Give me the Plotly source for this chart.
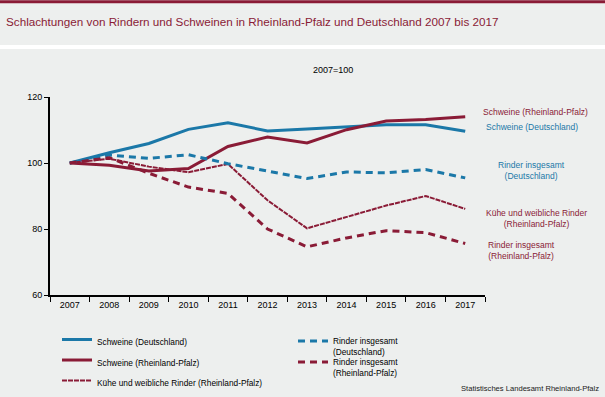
import plotly.graph_objects as go

years = ["2007", "2008", "2009", "2010", "2011", "2012", "2013", "2014", "2015", "2016", "2017"]
schweine_de = [100, 103.1, 105.9, 110.2, 112.2, 109.7, 110.3, 110.9, 111.6, 111.6, 109.6]
schweine_rp = [100, 99.3, 97.6, 98.3, 105.0, 107.9, 106.1, 110.1, 112.7, 113.2, 114.0]
rinder_de = [100, 102.4, 101.4, 102.5, 99.8, 97.6, 95.3, 97.3, 97.0, 98.0, 95.5]
kuehe_rp = [100, 101.3, 98.9, 97.2, 99.7, 88.7, 80.2, 83.6, 87.1, 90.0, 86.1]
rinder_rp = [100, 101.6, 96.9, 92.7, 90.8, 80.0, 74.6, 77.3, 79.5, 78.9, 75.6]
y_ticks = [60, 80, 100, 120]

BLUE = "#1B78A8"
RED = "#8A1B36"
BG = "#EDEFEE"
FONT = "Liberation Sans, Arial, sans-serif"

# plot area geometry in pixels
L, T, W, H = 50, 97, 435, 198.3
R = 605 - L - W
B = 397 - T - H


def px_x(px):
    return (px - L) / W


def px_y(py):
    return 1 - (py - T) / H


fig = go.Figure()
fig.add_trace(go.Scatter(x=years, y=schweine_de, mode="lines", name="Schweine (Deutschland)",
                         line=dict(color=BLUE, width=3), legend="legend"))
fig.add_trace(go.Scatter(x=years, y=schweine_rp, mode="lines", name="Schweine (Rheinland-Pfalz)",
                         line=dict(color=RED, width=3), legend="legend2"))
fig.add_trace(go.Scatter(x=years, y=kuehe_rp, mode="lines", name="Kühe und weibliche Rinder (Rheinland-Pfalz)",
                         line=dict(color=RED, width=2, dash="5px,1px"), legend="legend3"))
fig.add_trace(go.Scatter(x=years, y=rinder_de, mode="lines", name="Rinder insgesamt<br>(Deutschland)",
                         line=dict(color=BLUE, width=3, dash="7px,5px"), legend="legend4"))
fig.add_trace(go.Scatter(x=years, y=rinder_rp, mode="lines", name="Rinder insgesamt<br>(Rheinland-Pfalz)",
                         line=dict(color=RED, width=3, dash="7px,5px"), legend="legend5"))

annotations = []
# value labels at 2017
for val, dy in [(schweine_rp[-1], -10), (schweine_de[-1], 12), (rinder_de[-1], -10), (kuehe_rp[-1], 12), (rinder_rp[-1], 12)]:
    annotations.append(dict(x=years[-1], y=val, xref="x", yref="y", text=f"{val:.1f}".replace(".", ","),
                            showarrow=False, yshift=-dy, font=dict(size=9, color="#000000", family=FONT)))
# series labels on the right
right_labels = [
    ("Schweine (Rheinland-Pfalz)", RED, 112, 535),
    ("Schweine (Deutschland)", BLUE, 127, 532),
    ("Rinder insgesamt<br>(Deutschland)", BLUE, 171, 531),
    ("Kühe und weibliche Rinder<br>(Rheinland-Pfalz)", RED, 219, 536),
    ("Rinder insgesamt<br>(Rheinland-Pfalz)", RED, 251, 521),
]
for txt, col, ypx, xpx in right_labels:
    annotations.append(dict(x=px_x(xpx), xref="paper", y=px_y(ypx), yref="paper", text=txt, showarrow=False,
                            xanchor="center", yanchor="middle", font=dict(size=8.5, color=col, family=FONT)))
annotations.append(dict(x=px_x(333), xref="paper", y=px_y(70), yref="paper", yanchor="middle",
                        text="2007=100", showarrow=False, font=dict(size=9, color="#000000", family=FONT)))
annotations.append(dict(x=px_x(601), xref="paper", y=px_y(389), yref="paper", xanchor="right", yanchor="middle",
                        text="Statistisches Landesamt Rheinland-Pfalz", showarrow=False,
                        font=dict(size=7.6, color="#1A1A1A", family=FONT)))
annotations.append(dict(x=px_x(4), xref="paper", y=px_y(21.5), yref="paper", xanchor="left", yanchor="middle",
                        text="Schlachtungen von Rindern und Schweinen in Rheinland-Pfalz und Deutschland 2007 bis 2017",
                        showarrow=False, font=dict(size=11.7, color=RED, family=FONT)))

legend_common = dict(orientation="v", xanchor="left", yanchor="top", bgcolor="rgba(0,0,0,0)",
                     font=dict(size=8.3, family=FONT, color="#000000"), itemwidth=30, tracegroupgap=0,
                     valign="top")

fig.update_layout(
    width=605, height=397,
    margin=dict(l=L, r=R, t=T, b=B, autoexpand=False),
    paper_bgcolor=BG, plot_bgcolor=BG,
    font=dict(family=FONT, size=9, color="#000000"),
    showlegend=True,
    legend=dict(x=px_x(57), y=px_y(341 - 13), **legend_common),
    legend2=dict(x=px_x(57), y=px_y(361.5 - 13), **legend_common),
    legend3=dict(x=px_x(57), y=px_y(382 - 13), **legend_common),
    legend4=dict(x=px_x(293), y=px_y(340.5 - 11), **legend_common),
    legend5=dict(x=px_x(293), y=px_y(361.5 - 11), **legend_common),
    xaxis=dict(type="category", range=[-0.5, 10.5], showline=True, linecolor="#000000", linewidth=2,
               ticks="outside", tickson="boundaries", ticklen=5, tickcolor="#000000", showgrid=False,
               tickfont=dict(size=9, color="#000000"), fixedrange=True),
    yaxis=dict(range=[60, 120], tickvals=y_ticks, showline=True, linecolor="#000000", linewidth=2,
               ticks="outside", ticklen=4, tickcolor="#000000", showgrid=False, zeroline=False,
               tickfont=dict(size=9, color="#000000")),
    annotations=annotations,
    shapes=[
        dict(type="rect", xref="paper", yref="paper", x0=px_x(0), x1=px_x(605),
             y0=px_y(3), y1=px_y(0), fillcolor=RED, line_width=0, layer="below"),
        dict(type="rect", xref="paper", yref="paper", x0=px_x(0), x1=px_x(605),
             y0=px_y(49), y1=px_y(45), fillcolor="#FFFFFF", line_width=0, layer="below"),
    ],
)

fig.write_html("out.html", config={"displayModeBar": False},
               post_script="document.body.style.margin='0';document.body.style.padding='0';")
